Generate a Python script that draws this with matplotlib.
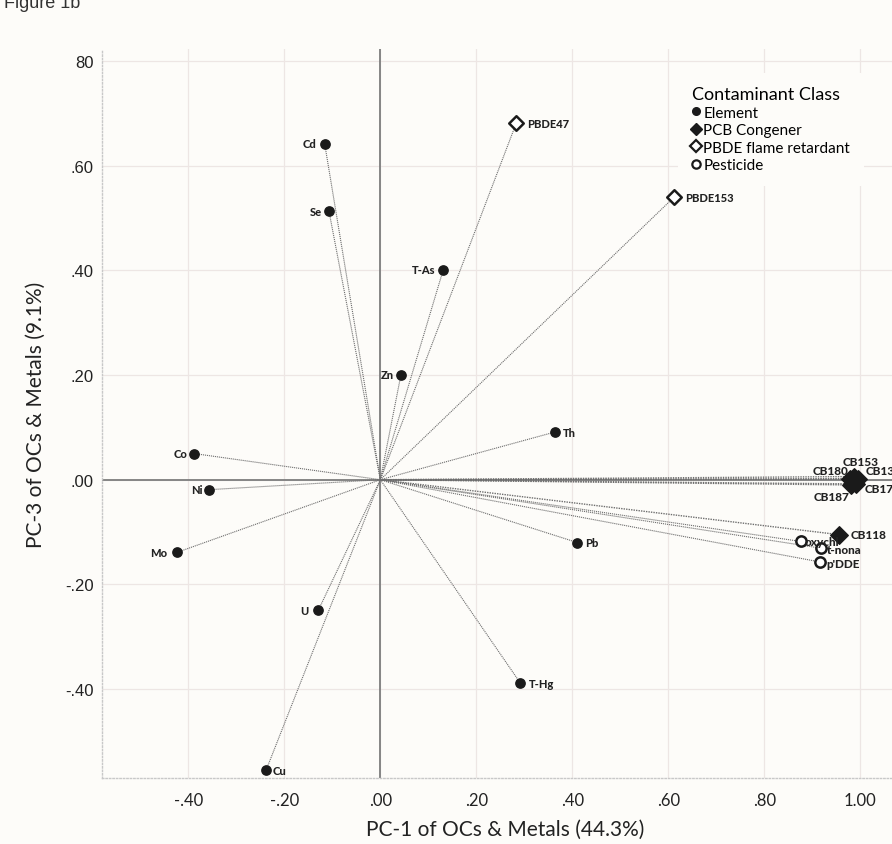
import matplotlib
matplotlib.use("Agg")
import matplotlib.pyplot as plt
from matplotlib.lines import Line2D
from matplotlib.ticker import FixedLocator, FixedFormatter

# loadings: PC-1 (x) and PC-3 (y)
elem_names = ["Cd", "Se", "T-As", "Zn", "Th", "Co", "Ni", "Mo", "Pb", "U", "T-Hg", "Cu"]
elem_x = [-0.116, -0.107, 0.131, 0.043, 0.363, -0.388, -0.356, -0.424, 0.410, -0.129, 0.292, -0.238]
elem_y = [0.642, 0.513, 0.401, 0.201, 0.091, 0.050, -0.019, -0.139, -0.120, -0.249, -0.389, -0.555]

pcb_names = ["CB153", "CB180", "CB138", "CB170", "CB187", "CB118"]
pcb_x = [0.986, 0.978, 0.996, 0.992, 0.980, 0.956]
pcb_y = [0.006, 0.001, 0.002, -0.008, -0.010, -0.105]

pbde_names = ["PBDE47", "PBDE153"]
pbde_x = [0.283, 0.612]
pbde_y = [0.681, 0.540]

pest_names = ["oxychl", "t-nona", "p'DDE"]
pest_x = [0.876, 0.919, 0.915]
pest_y = [-0.118, -0.131, -0.157]

x_ticks = [-0.4, -0.2, 0.0, 0.2, 0.4, 0.6, 0.8, 1.0]
x_labels = ["-.40", "-.20", ".00", ".20", ".40", ".60", ".80", "1.00"]
y_ticks = [-0.4, -0.2, 0.0, 0.2, 0.4, 0.6, 0.8]
y_labels = ["-.40", "-.20", ".00", ".20", ".40", ".60", "80"]

# label placement: (dx, dy) in points, horizontal alignment
offsets = {
    "Cd": (-6, 0, "right"), "Se": (-5, 0, "right"), "T-As": (-6, 0, "right"),
    "Zn": (-5, 0, "right"), "Th": (6, 0, "left"), "Co": (-5, 0, "right"),
    "Ni": (-5, 0, "right"), "Mo": (-7, 0, "right"), "Pb": (6, 0, "left"),
    "U": (-7, 0, "right"), "T-Hg": (6, 0, "left"), "Cu": (5, 0, "left"),
    "CB153": (5, 11, "center"), "CB180": (-1, 6, "right"), "CB138": (5, 6, "left"),
    "CB170": (6, -3, "left"), "CB187": (-1, -8, "right"), "CB118": (8, 0, "left"),
    "PBDE47": (8, 0, "left"), "PBDE153": (8, 0, "left"),
    "oxychl": (3, 0, "left"), "t-nona": (4, -1, "left"), "p'DDE": (5, -1, "left"),
}

bg = "#fdfcf9"
gill = ["Lato", "DejaVu Sans"]

fig = plt.figure(figsize=(8.92, 8.45), dpi=100, facecolor=bg)
ax = fig.add_axes([0.1143, 0.0781, 0.904, 0.8627], facecolor=bg)
ax.set_xlim(-0.58, 1.10)
ax.set_ylim(-0.570, 0.823)

# grid and zero lines
for t in x_ticks:
    ax.axvline(t, color="#ede6e4", lw=0.9, zorder=0)
for t in y_ticks:
    ax.axhline(t, color="#ede6e4", lw=0.9, zorder=0)
ax.axhline(0, color="#7d7d7d", lw=1.3, zorder=1)
ax.axvline(0, color="#7d7d7d", lw=1.3, zorder=1)

# loading vectors from the origin
def vectors(xs, ys, lw=0.8):
    for x, y in zip(xs, ys):
        ax.plot([0, x], [0, y], color="#6e6e6e", lw=lw, ls=(0, (1, 0.8)), zorder=2)

vectors(elem_x, elem_y)
vectors(pcb_x, pcb_y, lw=1.0)
vectors(pbde_x, pbde_y)
vectors(pest_x, pest_y)

ax.scatter(elem_x, elem_y, s=45, marker="o", color="#1a1a1a", zorder=4)
ax.scatter(pcb_x, pcb_y, s=80, marker="D", color="#1a1a1a", zorder=4)
ax.scatter(pbde_x, pbde_y, s=55, marker="D", facecolor="white",
           edgecolor="#1a1a1a", linewidth=1.8, zorder=4)
ax.scatter(pest_x, pest_y, s=55, marker="o", facecolor="white",
           edgecolor="#1a1a1a", linewidth=1.8, zorder=4)

for names, xs, ys, fs in [(elem_names, elem_x, elem_y, 8), (pcb_names, pcb_x, pcb_y, 8.5),
                          (pbde_names, pbde_x, pbde_y, 8), (pest_names, pest_x, pest_y, 8.5)]:
    for n, x, y in zip(names, xs, ys):
        dx, dy, ha = offsets[n]
        ax.annotate(n, (x, y), xytext=(dx, dy), textcoords="offset points",
                    ha=ha, va="center", fontsize=fs, fontweight="black",
                    family=gill, color="#222222", zorder=5)

ax.xaxis.set_major_locator(FixedLocator(x_ticks))
ax.xaxis.set_major_formatter(FixedFormatter(x_labels))
ax.yaxis.set_major_locator(FixedLocator(y_ticks))
ax.yaxis.set_major_formatter(FixedFormatter(y_labels))
ax.tick_params(length=0, pad=10, labelsize=12, colors="#222222")
ax.tick_params(axis="y", pad=6, labelsize=12)
for lab in ax.get_xticklabels():
    lab.set_family(gill)
for lab in ax.get_yticklabels():
    lab.set_family(["Liberation Sans", "DejaVu Sans"])

for s in ["top", "right"]:
    ax.spines[s].set_visible(False)
for s in ["left", "bottom"]:
    ax.spines[s].set_color("#c8c8c8")
    ax.spines[s].set_linestyle((0, (1, 1.5)))
    ax.spines[s].set_linewidth(1.0)

ax.set_xlabel("PC-1 of OCs & Metals (44.3%)", fontsize=15, family=gill,
              color="#222222", labelpad=8)
ax.set_ylabel("PC-3 of OCs & Metals (9.1%)", fontsize=15, family=gill,
              color="#222222", labelpad=14)

handles = [
    Line2D([], [], ls="none", marker="o", markersize=5.5, color="#1a1a1a"),
    Line2D([], [], ls="none", marker="D", markersize=6, color="#1a1a1a"),
    Line2D([], [], ls="none", marker="D", markersize=6, markerfacecolor="white",
           markeredgecolor="#1a1a1a", markeredgewidth=1.6),
    Line2D([], [], ls="none", marker="o", markersize=6, markerfacecolor="white",
           markeredgecolor="#1a1a1a", markeredgewidth=1.6),
]
leg = ax.legend(handles, ["Element", "PCB Congener", "PBDE flame retardant", "Pesticide"],
                title="Contaminant Class", loc="upper left",
                bbox_to_anchor=(0.705, 0.978), frameon=True, facecolor=bg,
                edgecolor="none", framealpha=1, handlelength=0.6,
                handletextpad=0.15, labelspacing=0.22, borderpad=0.9,
                prop={"family": gill, "size": 11},
                title_fontproperties={"family": gill, "size": 13})
leg._legend_box.align = "left"
leg.set_zorder(6)

fig.text(0.004, 1 - 8 / 845, "Figure 1b", fontsize=13,
         family=["Liberation Sans", "DejaVu Sans"], va="baseline", color="#333333")

fig.savefig("out.png", dpi=100, facecolor=bg)
